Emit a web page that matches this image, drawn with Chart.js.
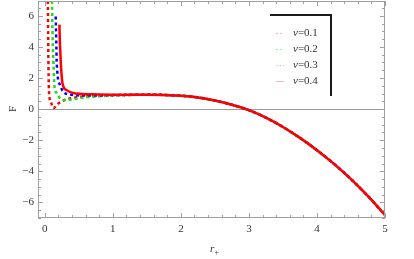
<!DOCTYPE html>
<html><head><meta charset="utf-8">
<script src="https://cdn.jsdelivr.net/npm/chart.js@4.4.0/dist/chart.umd.min.js"></script>
<style>html,body{margin:0;padding:0;background:#fff}canvas{display:block}</style>
</head><body>
<canvas id="c" width="414" height="259"></canvas>
<script>
// Shared tail (curves coincide for r+ >= 1.5)
const rTail = [1.5, 1.75, 2.0, 2.25, 2.5, 2.75, 3.0, 3.25, 3.5, 3.75, 4.0, 4.25, 4.5, 4.75, 5.0];
const FTail = [0.93, 0.91, 0.86, 0.75, 0.55, 0.28, -0.07, -0.55, -1.15, -1.85, -2.64, -3.52, -4.5, -5.6, -6.8];

const rV01 = [0.045, 0.05, 0.054, 0.063, 0.09, 0.125, 0.2, 0.3, 0.45, 0.6, 0.8, 1.0, 1.25];
const FV01 = [6.95, 4.5, 2.7, 1.0, 0.45, 0.06, 0.36, 0.6, 0.74, 0.82, 0.85, 0.88, 0.91];

const rV02 = [0.105, 0.115, 0.128, 0.14, 0.18, 0.225, 0.3, 0.4, 0.59, 0.8, 1.0, 1.25];
const FV02 = [6.95, 4.5, 2.9, 1.54, 1.0, 0.68, 0.58, 0.62, 0.75, 0.83, 0.87, 0.91];

const rV03 = [0.16, 0.168, 0.176, 0.225, 0.275, 0.37, 0.5, 0.64, 0.8, 1.0, 1.25];
const FV03 = [5.95, 4.5, 2.9, 1.54, 1.1, 0.94, 0.88, 0.88, 0.88, 0.9, 0.92];

const rV04 = [0.215, 0.22, 0.23, 0.24, 0.26, 0.32, 0.45, 0.64, 0.8, 1.0, 1.25];
const FV04 = [5.43, 4.5, 3.5, 2.6, 1.65, 1.22, 1.0, 0.96, 0.94, 0.93, 0.93];

const seriesLabels = ["0.1", "0.2", "0.3", "0.4"];
const xTickValues = [0, 1, 2, 3, 4, 5];
const yTickValues = [-6, -4, -2, 0, 2, 4, 6];

function pts(r, F) {
  const a = r.map((x, i) => ({x: x, y: F[i]}));
  return a.concat(rTail.map((x, i) => ({x: x, y: FTail[i]})));
}

const SERIF = "'Liberation Serif', 'DejaVu Serif', serif";
const frameColor = '#a0a0a0';

const decor = {
  id: 'decor',
  beforeDatasetsDraw(chart) {
    const {ctx, chartArea: a, scales: {y}} = chart;
    const y0 = Math.round(y.getPixelForValue(0)) + 0.5;
    ctx.save();
    ctx.strokeStyle = '#999';
    ctx.lineWidth = 1;
    ctx.beginPath(); ctx.moveTo(a.left, y0); ctx.lineTo(a.right, y0); ctx.stroke();
    ctx.restore();
  },
  afterDatasetsDraw(chart) {
    const {ctx, chartArea: a, scales: {x, y}} = chart;
    ctx.save();
    ctx.strokeStyle = frameColor;
    ctx.lineWidth = 1;
    ctx.strokeRect(a.left + 0.5, a.top + 0.5, a.right - a.left - 1, a.bottom - a.top - 1);
    ctx.beginPath();
    for (let v = 0; v <= 5.0001; v += 0.2) {
      const px = Math.round(x.getPixelForValue(v)) + 0.5;
      const major = Math.abs(v - Math.round(v)) < 1e-6;
      const L = major ? 5 : 3;
      ctx.moveTo(px, a.bottom); ctx.lineTo(px, a.bottom - L);
      ctx.moveTo(px, a.top); ctx.lineTo(px, a.top + L);
    }
    for (let v = -7; v <= 6.9; v += 0.5) {
      const py = Math.round(y.getPixelForValue(v)) + 0.5;
      const major = Math.abs(v / 2 - Math.round(v / 2)) < 1e-6;
      const L = major ? 5 : 3;
      ctx.moveTo(a.left, py); ctx.lineTo(a.left + L, py);
      ctx.moveTo(a.right, py); ctx.lineTo(a.right - L, py);
    }
    ctx.stroke();

    // legend box (top and right edges)
    ctx.strokeStyle = '#1a1a1a';
    ctx.lineWidth = 2;
    ctx.beginPath();
    ctx.moveTo(270, 15); ctx.lineTo(331, 15); ctx.lineTo(331, 96);
    ctx.stroke();
    const sw = [
      {c: '#f4b4b4', d: [2, 2]},
      {c: '#a8eca8', d: [2, 2]},
      {c: '#bcbcf0', d: [1.5, 2]},
      {c: '#f6b8b8', d: []}
    ];
    const ys = [33, 49, 65, 81];
    seriesLabels.forEach((lab, i) => {
      ctx.strokeStyle = sw[i].c; ctx.lineWidth = 1; ctx.setLineDash(sw[i].d);
      ctx.beginPath(); ctx.moveTo(276, ys[i] + 0.5); ctx.lineTo(284, ys[i] + 0.5); ctx.stroke();
      ctx.setLineDash([]);
      ctx.fillStyle = '#333';
      ctx.textBaseline = 'middle'; ctx.textAlign = 'left';
      ctx.font = "italic 11px " + SERIF;
      ctx.fillText('v', 293, ys[i]);
      const w = ctx.measureText('v').width;
      ctx.font = "11px " + SERIF;
      ctx.fillText('=' + lab, 293 + w, ys[i]);
    });

    // axis titles
    ctx.fillStyle = '#333';
    ctx.font = "11px " + SERIF;
    ctx.save();
    ctx.translate(13, 109);
    ctx.rotate(-Math.PI / 2);
    ctx.textAlign = 'center'; ctx.textBaseline = 'middle';
    ctx.fillText('F', 0, 0);
    ctx.restore();
    ctx.font = "italic 11px " + SERIF;
    ctx.textAlign = 'left'; ctx.textBaseline = 'alphabetic';
    ctx.fillText('r', 210, 252);
    ctx.font = "8px " + SERIF;
    ctx.fillText('+', 214.5, 255);
    ctx.restore();
  }
};

const styles = [
  {c: '#ff0000', d: [3, 3], w: 2.5, o: 4},
  {c: '#19dd19', d: [3, 3], w: 2.5, o: 3},
  {c: '#0000ff', d: [3, 3], w: 2.5, o: 2},
  {c: '#ff0000', d: [], w: 2.5, o: 1}
];
const allData = [pts(rV01, FV01), pts(rV02, FV02), pts(rV03, FV03), pts(rV04, FV04)];

new Chart(document.getElementById('c'), {
  type: 'scatter',
  data: {
    datasets: allData.map((d, i) => ({
      label: 'v=' + seriesLabels[i],
      data: d,
      showLine: true,
      borderColor: styles[i].c,
      borderDash: styles[i].d,
      borderWidth: styles[i].w,
      pointRadius: 0,
      cubicInterpolationMode: 'monotone',
      order: styles[i].o,
      clip: 0
    }))
  },
  options: {
    responsive: false,
    animation: false,
    layout: {padding: {top: 1, right: 29, left: 0, bottom: 0}},
    plugins: {legend: {display: false}, tooltip: {enabled: false}},
    scales: {
      x: {
        type: 'linear', min: -0.1, max: 5.0,
        grid: {display: false, drawTicks: false},
        border: {display: false},
        afterBuildTicks(s) { s.ticks = xTickValues.map(v => ({value: v})); },
        afterFit(s) { s.height = 41; s.paddingLeft = 0; s.paddingRight = 0; },
        ticks: {font: {family: SERIF, size: 11}, color: '#333', padding: 5, maxRotation: 0,
                callback: v => String(v)}
      },
      y: {
        type: 'linear', min: -7, max: 6.95,
        grid: {display: false, drawTicks: false},
        border: {display: false},
        afterBuildTicks(s) { s.ticks = yTickValues.map(v => ({value: v})); },
        afterFit(s) { s.width = 38; s.paddingTop = 0; s.paddingBottom = 0; },
        ticks: {font: {family: SERIF, size: 11}, color: '#333', padding: 4,
                callback: v => String(v).replace('-', '\u2212')}
      }
    }
  },
  plugins: [decor]
});
</script>
</body></html>
